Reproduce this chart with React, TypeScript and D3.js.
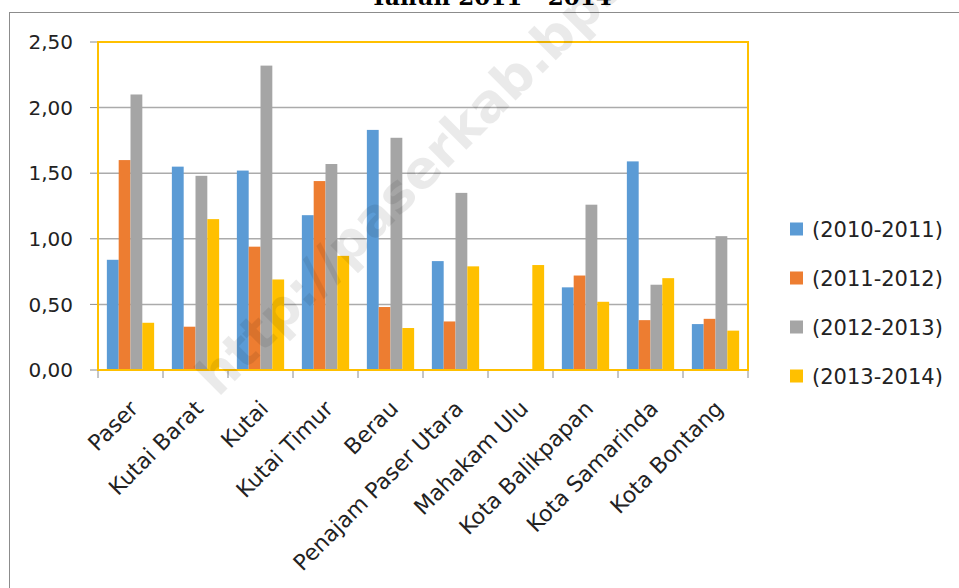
import { scaleBand, scaleLinear, formatLocale } from "d3";

const categories = [
  "Paser",
  "Kutai Barat",
  "Kutai",
  "Kutai Timur",
  "Berau",
  "Penajam Paser Utara",
  "Mahakam Ulu",
  "Kota Balikpapan",
  "Kota Samarinda",
  "Kota Bontang",
];
const seriesNames = ["(2010-2011)", "(2011-2012)", "(2012-2013)", "(2013-2014)"];
const v2010 = [0.84, 1.55, 1.52, 1.18, 1.83, 0.83, 0, 0.63, 1.59, 0.35];
const v2011 = [1.6, 0.33, 0.94, 1.44, 0.48, 0.37, 0, 0.72, 0.38, 0.39];
const v2012 = [2.1, 1.48, 2.32, 1.57, 1.77, 1.35, 0, 1.26, 0.65, 1.02];
const v2013 = [0.36, 1.15, 0.69, 0.87, 0.32, 0.79, 0.8, 0.52, 0.7, 0.3];
const yTicks = [0, 0.5, 1, 1.5, 2, 2.5];
const colors = ["#5B9BD5", "#ED7D31", "#A5A5A5", "#FFC000"];

const series = [v2010, v2011, v2012, v2013];

const margin = { top: 42, left: 98 };
const plotW = 650;
const plotH = 328;

const fmt = formatLocale({
  decimal: ",",
  thousands: ".",
  grouping: [3],
  currency: ["", ""],
}).format(".2f");

const font = "'DejaVu Sans', sans-serif";

export default function App() {
  const x0 = scaleBand()
    .domain(categories)
    .range([0, plotW])
    .paddingInner(1.5 / 5.5)
    .paddingOuter(0.75 / 5.5);
  const x1 = scaleBand()
    .domain(seriesNames)
    .range([0, x0.bandwidth()]);
  const y = scaleLinear().domain([0, 2.5]).range([plotH, 0]);
  const step = x0.step();

  return (
    <svg
      width={959}
      height={588}
      style={{ position: "absolute", left: 0, top: 0, background: "#fff" }}
    >
      {/* outer chart frame */}
      <line x1={9} y1={12.5} x2={959} y2={12.5} stroke="#8c8c8c" />
      <line x1={9.5} y1={12} x2={9.5} y2={588} stroke="#8c8c8c" />
      <text
        x={491}
        y={5}
        textAnchor="middle"
        fontFamily="'DejaVu Serif', serif"
        fontWeight="bold"
        fontSize={23}
      >
        Tahun 2011 - 2014
      </text>

      <g transform={`translate(${margin.left}, ${margin.top})`}>
        {yTicks.map((t) => (
          <g key={t}>
            <line
              x1={0}
              x2={plotW}
              y1={y(t)}
              y2={y(t)}
              stroke="#ababab"
              strokeWidth={1.5}
            />
            <line x1={-8} x2={0} y1={y(t)} y2={y(t)} stroke="#8c8c8c" />
            <text
              x={-25}
              y={y(t)}
              dy="0.36em"
              textAnchor="end"
              fontFamily={font}
              fontSize={20}
              fill="#222"
            >
              {fmt(t)}
            </text>
          </g>
        ))}

        {series.map((vals, si) =>
          vals.map((v, ci) => (
            <rect
              key={`${si}-${ci}`}
              x={x0(categories[ci])! + x1(seriesNames[si])!}
              y={y(v)}
              width={x1.bandwidth()}
              height={plotH - y(v)}
              fill={colors[si]}
            />
          ))
        )}

        {categories.map((c, i) => (
          <line
            key={c}
            x1={i * step}
            x2={i * step}
            y1={plotH}
            y2={plotH + 8}
            stroke="#8c8c8c"
          />
        ))}
        <line x1={plotW} x2={plotW} y1={plotH} y2={plotH + 8} stroke="#8c8c8c" />

        <rect
          x={0}
          y={0}
          width={plotW}
          height={plotH}
          fill="none"
          stroke="#FFC000"
          strokeWidth={2}
        />

        {categories.map((c) => {
          const cx = x0(c)! + x0.bandwidth() / 2;
          return (
            <text
              key={c}
              transform={`translate(${cx + 9}, ${plotH + 40}) rotate(-45)`}
              textAnchor="end"
              fontFamily={font}
              fontSize={22}
              fill="#222"
            >
              {c}
            </text>
          );
        })}
      </g>

      {/* watermark */}
      <text
        transform="translate(218, 398) rotate(-45)"
        fontFamily={font}
        fontWeight="bold"
        fontSize={52}
        fill="#000"
        opacity={0.08}
      >
        http://paserkab.bps.go.id
      </text>

      {seriesNames.map((s, i) => (
        <g key={s} transform={`translate(790, ${229 + i * 49})`}>
          <rect x={0} y={-6.5} width={13} height={13} fill={colors[i]} />
          <text
            x={22}
            y={0}
            dy="0.36em"
            fontFamily={font}
            fontSize={21}
            fill="#222"
          >
            {s}
          </text>
        </g>
      ))}
    </svg>
  );
}
